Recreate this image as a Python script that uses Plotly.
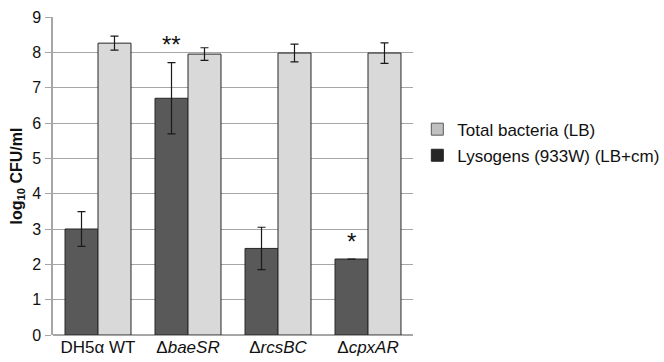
import plotly.graph_objects as go

categories = ["DH5α WT", "Δ<i>baeSR</i>", "Δ<i>rcsBC</i>", "Δ<i>cpxAR</i>"]
lysogens = [3.0, 6.7, 2.45, 2.15]
lysogens_err = [0.49, 1.01, 0.6, None]
total = [8.26, 7.95, 7.98, 7.98]
total_err = [0.2, 0.18, 0.25, 0.29]
star_labels = ["", "**", "", "*"]
star_y = [None, 8.22, None, 2.65]

font = "Liberation Sans, Arial, sans-serif"

fig = go.Figure()
fig.add_trace(go.Bar(
    x=categories, y=lysogens, name="Lysogens (933W) (LB+cm)", showlegend=False,
    marker=dict(color="#595959", line=dict(color="#262626", width=1)),
    error_y=dict(type="data", array=lysogens_err, color="#1a1a1a", thickness=1.2, width=4, visible=True),
))
fig.add_trace(go.Bar(
    x=categories, y=total, name="Total bacteria (LB)", showlegend=False,
    marker=dict(color="#d9d9d9", line=dict(color="#262626", width=1)),
    error_y=dict(type="data", array=total_err, color="#1a1a1a", thickness=1.2, width=4, visible=True),
))
# legend swatches (on hidden overlay axes so they do not take bar slots)
fig.add_trace(go.Bar(x=[0], y=[None], name="Lysogens (933W) (LB+cm)", xaxis="x2", yaxis="y2",
                     legendgroup="b", legendrank=2,
                     marker=dict(color="#262626", line=dict(color="#262626", width=1))))
fig.add_trace(go.Bar(x=[0], y=[None], name="Total bacteria (LB)", xaxis="x2", yaxis="y2",
                     legendgroup="a", legendrank=1,
                     marker=dict(color="#c0c0c0", line=dict(color="#595959", width=1))))

for c, s, yy in zip(categories, star_labels, star_y):
    if s:
        fig.add_annotation(x=c, y=yy, text=s, showarrow=False, xshift=-16.5,
                           font=dict(size=24, color="#111", family=font))

fig.update_layout(
    width=664, height=362,
    margin=dict(l=53, r=251, t=17, b=27, autoexpand=False),
    paper_bgcolor="white", plot_bgcolor="white",
    barmode="group", bargap=0.267, bargroupgap=0,
    font=dict(family=font, size=16, color="#111"),
    legend=dict(x=1.012, y=0.605, xanchor="left", yanchor="middle",
                font=dict(size=17, family=font, color="#111"),
                traceorder="grouped", tracegroupgap=1, itemwidth=30,
                bgcolor="rgba(0,0,0,0)"),
    showlegend=True,
    xaxis=dict(showline=False, ticks="", tickfont=dict(size=17), automargin=False),
    xaxis2=dict(overlaying="x", visible=False),
    yaxis2=dict(overlaying="y", visible=False, range=[0, 1]),
    yaxis=dict(range=[0, 9], dtick=1, showgrid=True, gridcolor="#a6a6a6", gridwidth=1,
               showline=True, linecolor="#a6a6a6", linewidth=1.5, automargin=False,
               ticks="outside", ticklen=6, tickcolor="#a6a6a6", ticklabelstandoff=1,
               tickfont=dict(size=16), zeroline=True, zerolinecolor="#a6a6a6",
               title=dict(text="<b>log<sub>10</sub> CFU/ml</b>", font=dict(size=16), standoff=6)),
)

fig.write_html("out.html", config={"displayModeBar": False},
               post_script="document.body.style.margin='0';document.body.style.overflow='hidden';")
